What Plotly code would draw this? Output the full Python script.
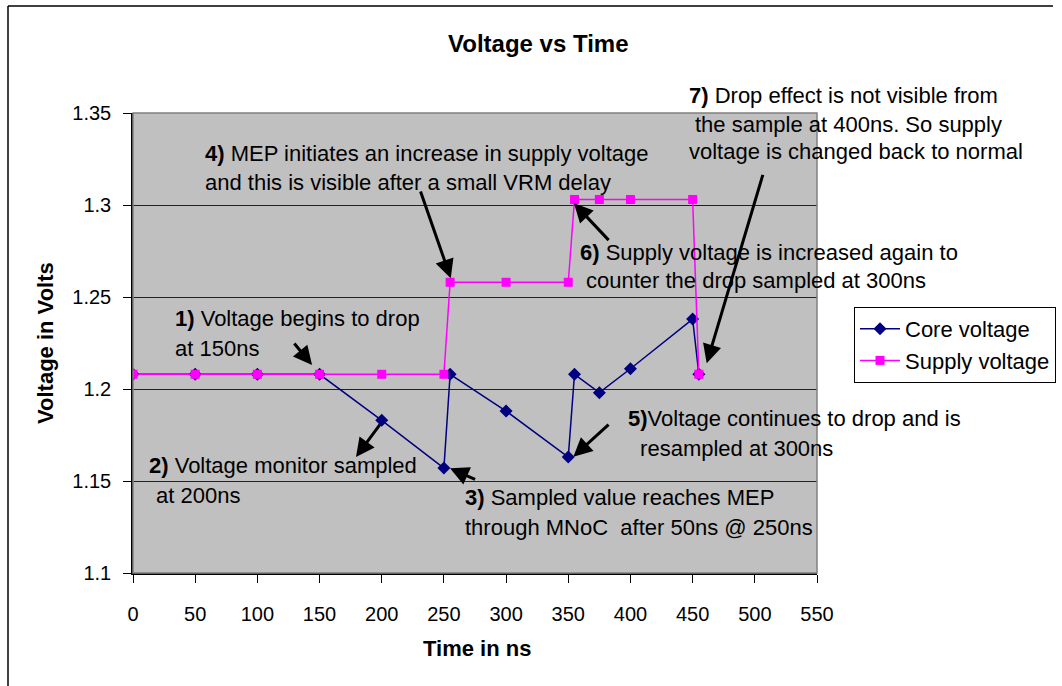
import plotly.graph_objects as go

# ---- data ----
time_ns = [0, 50, 100, 150, 200, 250, 255, 300, 350, 355, 375, 400, 450, 455]
core_voltage = [1.208, 1.208, 1.208, 1.208, 1.183, 1.157, 1.208, 1.188, 1.163,
                1.208, 1.198, 1.211, 1.238, 1.208]
supply_voltage = [1.208, 1.208, 1.208, 1.208, 1.208, 1.208, 1.258, 1.258, 1.258,
                  1.303, 1.303, 1.303, 1.303, 1.208]
x_ticks = [0, 50, 100, 150, 200, 250, 300, 350, 400, 450, 500, 550]
y_ticks = [1.1, 1.15, 1.2, 1.25, 1.3, 1.35]

W, H = 1062, 686
L, R, T, B = 133, 817, 113, 573
FONT = "Liberation Sans, Arial, sans-serif"


def px(x):
    return (x - L) / (R - L)


def py(y):
    return (B - y) / (B - T)


fig = go.Figure()
fig.add_trace(go.Scatter(
    x=time_ns, y=core_voltage, name="Core voltage", mode="lines+markers",
    line=dict(color="#000080", width=1.5),
    marker=dict(symbol="diamond", size=10, color="#000080")))
fig.add_trace(go.Scatter(
    x=time_ns, y=supply_voltage, name="Supply voltage", mode="lines+markers",
    line=dict(color="#FF00FF", width=1.5),
    marker=dict(symbol="square", size=9, color="#FF00FF")))

# text annotations: (text, left px, center-y px)
texts = [
    ("<b>1)</b> Voltage begins to drop", 173, 318),
    ("at 150ns", 173, 348),
    ("<b>2)</b> Voltage monitor sampled", 147, 465),
    ("at 200ns", 154, 495),
    ("<b>3)</b> Sampled value reaches MEP", 463, 497),
    ("through MNoC  after 50ns @ 250ns", 463, 527),
    ("<b>4)</b> MEP initiates an increase in supply voltage", 203, 153),
    ("and this is visible after a small VRM delay", 203, 182),
    ("<b>5)</b>Voltage continues to drop and is", 626, 418),
    (" resampled at 300ns", 632, 448),
    ("<b>6)</b> Supply voltage is increased again to", 578, 252),
    ("counter the drop sampled at 300ns", 584, 280),
    ("<b>7)</b> Drop effect is not visible from", 687, 95),
    ("the sample at 400ns. So supply", 693, 125),
    ("voltage is changed back to normal", 687, 152),
]
anns = []
for t, x, y in texts:
    anns.append(dict(text=t, x=px(x), y=py(y), xref="paper", yref="paper",
                     xanchor="left", yanchor="middle", showarrow=False,
                     font=dict(family=FONT, size=22, color="black")))

# arrows: (head x, head y, tail x, tail y) in data units
arrows = [
    (144, 1.213, 128.7, 1.2255),
    (179.3, 1.163, 199.4, 1.1815),
    (254.9, 1.1569, 276.3, 1.1505),
    (255.5, 1.2602, 230.8, 1.3082),
    (354.1, 1.1632, 383.6, 1.1814),
    (354.6, 1.3009, 383.6, 1.2801),
    (461.3, 1.214, 506.8, 1.3172),
]
for hx, hy, tx, ty in arrows:
    anns.append(dict(text="", x=hx, y=hy, ax=tx, ay=ty, xref="x", yref="y",
                     axref="x", ayref="y", showarrow=True, arrowhead=2,
                     arrowsize=1.25, arrowwidth=3, arrowcolor="black", standoff=0))

anns.append(dict(text="<b>Voltage vs Time</b>", x=px(538), y=py(43), xref="paper",
                 yref="paper", showarrow=False, xanchor="center", yanchor="middle",
                 font=dict(family=FONT, size=24, color="black")))
anns.append(dict(text="<b>Time in ns</b>", x=px(477), y=py(648), xref="paper",
                 yref="paper", showarrow=False, xanchor="center", yanchor="middle",
                 font=dict(family=FONT, size=22, color="black")))
anns.append(dict(text="<b>Voltage in Volts</b>", x=px(45), y=py(343), xref="paper",
                 yref="paper", showarrow=False, xanchor="center", yanchor="middle",
                 textangle=-90, font=dict(family=FONT, size=22, color="black")))

shapes = [
    dict(type="line", xref="paper", yref="paper", x0=px(8), x1=px(8), y0=py(6), y1=py(700),
         line=dict(color="black", width=1.5)),
    dict(type="line", xref="paper", yref="paper", x0=px(8), x1=px(1053), y0=py(6), y1=py(6),
         line=dict(color="black", width=1.5)),
    # plot-area border (top/right)
    dict(type="rect", xref="paper", yref="paper", x0=0, x1=1, y0=0, y1=1,
         line=dict(color="#808080", width=1.5), layer="above"),
]

fig.update_layout(
    width=W, height=H,
    margin=dict(l=L, r=W - R, t=T, b=H - B, pad=0, autoexpand=False),
    paper_bgcolor="white", plot_bgcolor="#C0C0C0",
    font=dict(family=FONT, size=20, color="black"),
    showlegend=True,
    legend=dict(x=854 / W, y=1 - 307 / H, xref="container", yref="container",
                xanchor="left", yanchor="top",
                bgcolor="white", bordercolor="black", borderwidth=1,
                font=dict(family=FONT, size=22, color="black"),
                itemwidth=40, tracegroupgap=0),
    annotations=anns, shapes=shapes,
)
fig.update_xaxes(range=[0, 550], tickvals=x_ticks, ticks="outside", ticklen=8,
                 tickcolor="black", showgrid=False, zeroline=False,
                 showline=True, linecolor="black", linewidth=1.5,
                 tickfont=dict(family=FONT, size=20), ticklabelstandoff=14)
fig.update_yaxes(range=[1.1, 1.35], tickvals=y_ticks, ticktext=[str(v) for v in y_ticks],
                 ticks="outside", ticklen=8, tickcolor="black",
                 showgrid=True, gridcolor="#222222", gridwidth=1, zeroline=False,
                 showline=True, linecolor="black", linewidth=1.5,
                 tickfont=dict(family=FONT, size=20), ticklabelstandoff=8)

fig.write_html("out.html")
